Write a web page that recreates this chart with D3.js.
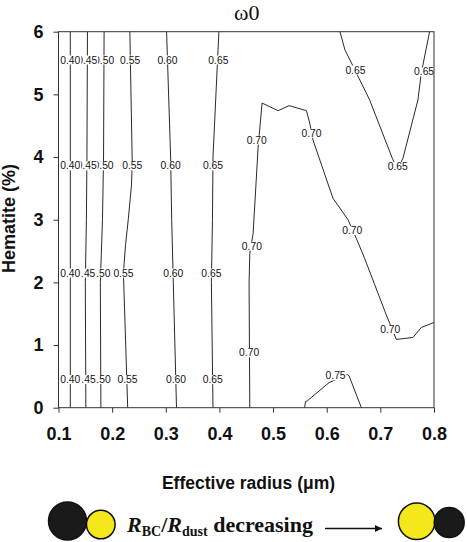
<!DOCTYPE html>
<html>
<head>
<meta charset="utf-8">
<script src="https://cdn.jsdelivr.net/npm/d3@7"></script>
<style>
  body { margin: 0; background: #fff; }
  text { font-family: "Liberation Sans", Arial, sans-serif; }
</style>
</head>
<body>
<svg id="chart" width="467" height="542"></svg>
<script>
// Tick values
const xTicks = [0.1, 0.2, 0.3, 0.4, 0.5, 0.6, 0.7, 0.8];
const yTicks = [0, 1, 2, 3, 4, 5, 6];

// Contour lines: [effective radius (um), hematite (%)]
const line040 = [[0.122, 0], [0.122, 6]];
const line045 = [[0.151, 0], [0.150, 2], [0.152, 3], [0.153, 4], [0.154, 6]];
const line050 = [[0.179, 0], [0.178, 2], [0.182, 3], [0.184, 4], [0.185, 6]];
const line055 = [[0.229, 0], [0.221, 2.15], [0.225, 2.6], [0.230, 3.0], [0.236, 3.55], [0.2375, 3.9], [0.233, 6]];
const line060 = [[0.320, 0], [0.314, 2], [0.311, 3], [0.309, 4], [0.3015, 6]];
const line065 = [[0.388, 0], [0.385, 2], [0.387, 3], [0.388, 4], [0.399, 6]];
const line070a = [[0.4566, 0], [0.4553, 1.985], [0.4566, 2.46], [0.4628, 2.78], [0.472, 4.14],
  [0.4795, 4.861], [0.5093, 4.74], [0.5298, 4.82], [0.5622, 4.74], [0.5684, 4.54], [0.5745, 4.27],
  [0.6117, 3.34], [0.6397, 3.0], [0.6553, 2.70], [0.6708, 2.38], [0.7111, 1.48], [0.7298, 1.09],
  [0.7607, 1.12], [0.7763, 1.28], [0.8, 1.36]];
const line065b = [[0.6247, 6], [0.6340, 5.71], [0.6646, 5.18], [0.6801, 4.91], [0.7223, 3.98],
  [0.7322, 3.80], [0.7421, 3.98], [0.770, 4.91], [0.7763, 5.34], [0.7918, 6]];
const line075 = [[0.559, 0], [0.5603, 0.096], [0.5640, 0.11], [0.6043, 0.40], [0.6385, 0.53],
  [0.6416, 0.51], [0.6646, 0]];

// Contour label spots: [level, radius, hematite]
const labelSpots = [
  [0.40, 0.122, 5.55], [0.40, 0.122, 3.86], [0.40, 0.122, 2.15], [0.40, 0.122, 0.45],
  [0.45, 0.1535, 5.55], [0.45, 0.1525, 3.86], [0.45, 0.150, 2.15], [0.45, 0.1505, 0.45],
  [0.50, 0.185, 5.55], [0.50, 0.184, 3.86], [0.50, 0.178, 2.15], [0.50, 0.1785, 0.45],
  [0.55, 0.2335, 5.55], [0.55, 0.2375, 3.86], [0.55, 0.221, 2.15], [0.55, 0.2285, 0.45],
  [0.60, 0.303, 5.55], [0.60, 0.309, 3.86], [0.60, 0.314, 2.15], [0.60, 0.319, 0.45],
  [0.65, 0.398, 5.55], [0.65, 0.388, 3.86], [0.65, 0.385, 2.15], [0.65, 0.3875, 0.45],
  [0.70, 0.4695, 4.27], [0.70, 0.4605, 2.58], [0.70, 0.4553, 0.88],
  [0.70, 0.5715, 4.38], [0.70, 0.6475, 2.83], [0.70, 0.7185, 1.25],
  [0.65, 0.6535, 5.39], [0.65, 0.7325, 3.85], [0.65, 0.7815, 5.36],
  [0.75, 0.6165, 0.51]
];

const contourLines = [line040, line045, line050, line055, line060, line065, line070a, line065b, line075];

const svg = d3.select('#chart');
const plotLeft = 58.5, plotRight = 434, plotTop = 31.7, plotBottom = 407.7;

const x = d3.scaleLinear().domain([0.1, 0.8]).range([plotLeft, plotRight]);
const y = d3.scaleLinear().domain([0, 6]).range([plotBottom, plotTop]);

const line = d3.line()
  .x(d => x(d[0]))
  .y(d => y(d[1]));

// Contour lines
svg.append('g')
  .selectAll('path')
  .data(contourLines)
  .join('path')
  .attr('d', line)
  .attr('fill', 'none')
  .attr('stroke', '#111')
  .attr('stroke-width', 0.9);

// Contour labels, drawn high to low so lower levels sit on top
const labels = svg.append('g');
labelSpots.slice()
  .sort((a, b) => b[0] - a[0])
  .forEach(([lvl, r, h]) => {
    const g = labels.append('g')
      .attr('transform', `translate(${x(r)},${y(h)})`);
    const rect = g.append('rect').attr('fill', '#fff');
    const t = g.append('text')
      .attr('text-anchor', 'middle')
      .attr('dy', '0.35em')
      .attr('font-size', 10.3)
      .attr('fill', '#111')
      .text(lvl.toFixed(2));
    const bb = t.node().getBBox();
    rect.attr('x', bb.x - 0.6)
      .attr('y', bb.y + 1)
      .attr('width', bb.width + 1.2)
      .attr('height', bb.height - 2);
  });

// Frame
svg.append('rect')
  .attr('x', plotLeft).attr('y', plotTop)
  .attr('width', plotRight - plotLeft).attr('height', plotBottom - plotTop)
  .attr('fill', 'none')
  .attr('stroke', '#333')
  .attr('stroke-width', 1);

// Axes
const xAxis = svg.append('g')
  .attr('transform', `translate(0,${plotBottom})`)
  .call(d3.axisBottom(x).tickValues(xTicks).tickFormat(d3.format('.1f'))
    .tickSize(5).tickSizeOuter(0).tickPadding(15));
const yAxis = svg.append('g')
  .attr('transform', `translate(${plotLeft},0)`)
  .call(d3.axisLeft(y).tickValues(yTicks).tickFormat(d3.format('d'))
    .tickSize(5).tickSizeOuter(0).tickPadding(10));

[xAxis, yAxis].forEach(a => {
  a.select('.domain').remove();
  a.selectAll('.tick line').attr('stroke', '#333');
  a.selectAll('.tick text')
    .attr('font-size', 18)
    .attr('font-weight', 'bold')
    .attr('fill', '#111')
    .style('font-family', '"Liberation Sans", Arial, sans-serif');
});

// Title
svg.append('text')
  .attr('x', 246.7)
  .attr('y', 19.5)
  .attr('text-anchor', 'middle')
  .attr('font-size', 22)
  .style('font-family', '"Liberation Serif", "Times New Roman", serif')
  .attr('fill', '#111')
  .text('ω0');

// Axis titles
svg.append('text')
  .attr('x', 248.5)
  .attr('y', 489)
  .attr('text-anchor', 'middle')
  .attr('font-size', 17.5)
  .attr('font-weight', 'bold')
  .attr('fill', '#111')
  .text('Effective radius (μm)');

svg.append('text')
  .attr('transform', 'translate(15,218.5) rotate(-90)')
  .attr('text-anchor', 'middle')
  .attr('font-size', 18)
  .attr('font-weight', 'bold')
  .attr('fill', '#111')
  .text('Hematite (%)');

// Bottom sketch: particle pair, ratio text, arrow, particle pair
const yellow = '#f4e81c';
const pairLeft = [[67.5, 521, 19, '#1a1a1a'], [100.8, 524.5, 14.3, yellow]];
const pairRight = [[416.7, 521.3, 18.3, yellow], [449.2, 522.5, 15, '#1a1a1a']];
svg.append('g')
  .selectAll('circle')
  .data(pairLeft.concat(pairRight))
  .join('circle')
  .attr('cx', d => d[0])
  .attr('cy', d => d[1])
  .attr('r', d => d[2])
  .attr('fill', d => d[3])
  .attr('stroke', '#111')
  .attr('stroke-width', 1.5);

const ratio = svg.append('text')
  .attr('x', 127)
  .attr('y', 531.5)
  .attr('font-weight', 'bold')
  .attr('fill', '#111')
  .style('font-family', '"Liberation Serif", "Times New Roman", serif')
  .attr('font-size', 22);
ratio.append('tspan').attr('font-style', 'italic').text('R');
ratio.append('tspan').attr('font-size', 14).attr('dy', 4).text('BC');
ratio.append('tspan').attr('dy', -4).text('/');
ratio.append('tspan').attr('font-style', 'italic').text('R');
ratio.append('tspan').attr('font-size', 14).attr('dy', 4).text('dust');
ratio.append('tspan').attr('dy', -4).text(' decreasing');

svg.append('defs').append('marker')
  .attr('id', 'arrowhead')
  .attr('viewBox', '0 0 10 10')
  .attr('refX', 10).attr('refY', 5)
  .attr('markerWidth', 9).attr('markerHeight', 7)
  .attr('markerUnits', 'userSpaceOnUse')
  .attr('orient', 'auto')
  .append('path')
  .attr('d', 'M0,0L10,5L0,10Z')
  .attr('fill', '#111');

svg.append('line')
  .attr('x1', 325).attr('x2', 382)
  .attr('y1', 528.5).attr('y2', 528.5)
  .attr('stroke', '#111')
  .attr('stroke-width', 1.5)
  .attr('marker-end', 'url(#arrowhead)');
</script>
</body>
</html>
